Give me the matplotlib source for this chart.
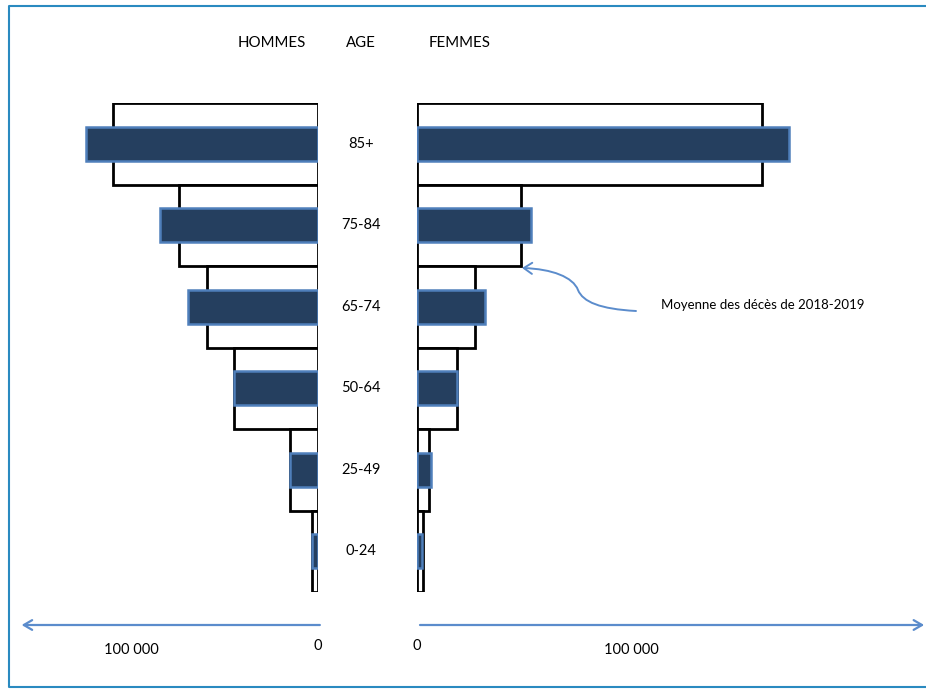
import numpy as np
import matplotlib
matplotlib.use('Agg')
import matplotlib.pyplot as plt
from matplotlib.path import Path
from matplotlib.patches import FancyArrowPatch
from matplotlib.lines import Line2D
import matplotlib.transforms as mtransforms

plt.rcParams['font.family'] = ['Lato', 'DejaVu Sans']

# ---------- Data (deaths) ----------
ages = ['85+', '75-84', '65-74', '50-64', '25-49', '0-24']
hommes_moy = [109600, 74300, 59400, 44900, 15000, 3200]     # moyenne 2018-2019 (outline)
hommes_obs = [124000, 84500, 69500, 45000, 15000, 3200]     # dark bars
femmes_moy = [161000, 48600, 27100, 18700, 5600, 2800]
femmes_obs = [174000, 53300, 31800, 18700, 6500, 2300]
tick_vals = [0, 100000]
tick_text = ['0', '100 000']

W, H = 926, 689
fig = plt.figure(figsize=(W / 100, H / 100), dpi=100)

DARK = '#253f5f'
EDGE = '#4f7fbb'
ARROW = '#5b8ccc'

def px_axes(x0, x1, y0, y1):
    # pixel box (top-left origin) -> figure axes
    return fig.add_axes([x0 / W, 1 - y1 / H, (x1 - x0) / W, (y1 - y0) / H])

y = np.arange(len(ages))

# left panel: 0 at px 318, 187 px per 100 000
axL = px_axes(20, 318, 103, 592)
axL.set_xlim(298 / 187 * 100000, 0)
# right panel: 0 at px 417, 214 px per 100 000
axR = px_axes(417, 905, 103, 592)
axR.set_xlim(0, 488 / 214 * 100000)

for ax, moy, obs in [(axL, hommes_moy, hommes_obs), (axR, femmes_moy, femmes_obs)]:
    ax.barh(y, moy, height=1.0, color='white', edgecolor='black', linewidth=2.0, zorder=1)
    ax.barh(y, obs, height=0.42, color=DARK, edgecolor=EDGE, linewidth=1.8, zorder=2)
    ax.set_ylim(len(ages) - 0.5, -0.5)
    ax.axis('off')

# age labels between the panels
lab_tr = mtransforms.blended_transform_factory(fig.transFigure, axL.transData)
for i, a in enumerate(ages):
    axL.text(361 / W, i, a, transform=lab_tr, ha='center', va='center', fontsize=10.5)

# headers
fig.text(272 / W, 1 - 43 / H, 'HOMMES', ha='center', va='center', fontsize=10.8)
fig.text(361 / W, 1 - 43 / H, 'AGE', ha='center', va='center', fontsize=10.8)
fig.text(460 / W, 1 - 43 / H, 'FEMMES', ha='center', va='center', fontsize=10.8)

# axis arrows
ay = -(625 - 592) / 489
arrow_kw = dict(arrowstyle='->,head_length=0.6,head_width=0.35', color=ARROW, lw=1.6,
                shrinkA=0, shrinkB=0)
axL.annotate('', xy=(158500, ay), xytext=(-1000, ay),
             xycoords=('data', 'axes fraction'), textcoords=('data', 'axes fraction'),
             arrowprops=arrow_kw, annotation_clip=False)
axR.annotate('', xy=(237000, ay), xytext=(1400, ay),
             xycoords=('data', 'axes fraction'), textcoords=('data', 'axes fraction'),
             arrowprops=arrow_kw, annotation_clip=False)

# tick labels under the arrows
for ax in (axL, axR):
    tr = mtransforms.blended_transform_factory(ax.transData, fig.transFigure)
    for v, t in zip(tick_vals, tick_text):
        yy = 646 if v == 0 else 650
        ax.text(v, 1 - yy / H, t, transform=tr, ha='center', va='center', fontsize=10.5)

# annotation with curved arrow
pix = mtransforms.Affine2D().scale(1 / W, -1 / H).translate(0, 1) + fig.transFigure
verts = [(636, 311), (600, 309), (583, 302), (578, 290),
         (573, 277), (552, 269), (522, 268)]
codes = [Path.MOVETO, Path.CURVE4, Path.CURVE4, Path.CURVE4,
         Path.CURVE4, Path.CURVE4, Path.CURVE4]
curve = FancyArrowPatch(path=Path(verts, codes), arrowstyle='->,head_length=6,head_width=4',
                        color=ARROW, lw=1.4, transform=pix)
fig.add_artist(curve)
fig.text(661 / W, 1 - 305 / H, 'Moyenne des décès de 2018-2019', ha='left', va='center', fontsize=9.5)

# frame around the picture (top, left, bottom only)
fx = [W + 5, 9, 9, W + 5]
fy = [6, 6, 687, 687]
fig.add_artist(Line2D(fx, fy, transform=pix, color='#2a8ac0', lw=1.5))

fig.savefig('out.png', dpi=100)
